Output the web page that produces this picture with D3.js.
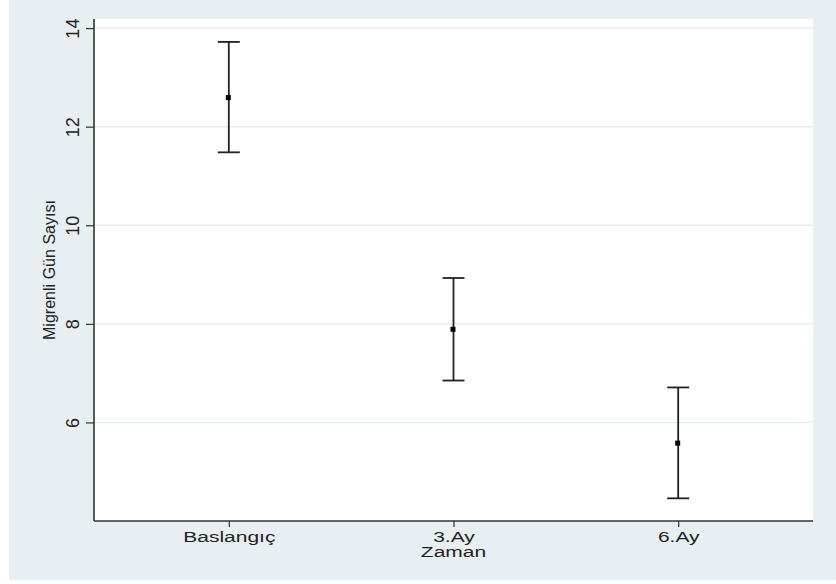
<!DOCTYPE html>
<html>
<head>
<meta charset="utf-8">
<script src="https://cdn.jsdelivr.net/npm/d3@7"></script>
<style>
  body { margin: 0; background: #fff; }
  text { font-family: "Liberation Sans", Arial, sans-serif; fill: #222; }
</style>
</head>
<body>
<div id="chart"></div>
<script>
// ===== data =====
var categories = ["Baslangıç", "3.Ay", "6.Ay"];
var means = [12.59, 7.89, 5.58];
var lower = [11.48, 6.85, 4.46];
var upper = [13.72, 8.93, 6.71];
var yTicks = [6, 8, 10, 12, 14];

var W = 836, H = 584;
var svg = d3.select("#chart").append("svg")
    .attr("width", W)
    .attr("height", H)

// outer panel
svg.append("rect")
    .attr("x", 9).attr("y", 0)
    .attr("width", W - 9).attr("height", 580)
    .attr("fill", "#e8eff2")

var pLeft = 94, pRight = 813, pTop = 19, pBottom = 521;

// plot region
svg.append("rect")
    .attr("x", pLeft).attr("y", pTop)
    .attr("width", pRight - pLeft).attr("height", pBottom - pTop)
    .attr("fill", "#fff")

var x = d3.scaleLinear().domain([0.4, 3.6]).range([pLeft, pRight])
var y = d3.scaleLinear().domain([4.0, 14.185]).range([pBottom, pTop])

// gridlines
svg.selectAll(".grid")
    .data(yTicks)
    .enter().append("line")
    .attr("x1", pLeft).attr("x2", pRight)
    .attr("y1", function(d){return y(d)})
    .attr("y2", function(d){return y(d)})
    .attr("stroke", "#e6eef1")
    .attr("stroke-width", 1.5)

// y axis
var yAxis = svg.append("g")
    .attr("transform", "translate(" + pLeft + ",0)")
    .call(d3.axisLeft(y).tickValues(yTicks).tickSize(8).tickFormat(d3.format("d")))
yAxis.select(".domain").attr("stroke", "#333").attr("stroke-width", 1.6)
    .attr("d", "M0," + pBottom + "V" + pTop)
yAxis.selectAll(".tick line").attr("stroke", "#333").attr("stroke-width", 1.2)
yAxis.selectAll(".tick text")
    .attr("font-size", "18px")
    .attr("font-family", "Liberation Sans, Arial, sans-serif")
    .attr("fill", "#222")
    .attr("x", 0).attr("y", 0)
    .attr("dy", null)
    .attr("text-anchor", "middle")
    .attr("transform", "translate(-15,0) rotate(-90)")

// x axis
var xAxis = svg.append("g")
    .attr("transform", "translate(0," + pBottom + ")")
    .call(d3.axisBottom(x).tickValues([1, 2, 3]).tickSize(6)
        .tickFormat(function(d){return categories[d - 1]}))
xAxis.select(".domain").attr("stroke", "#333").attr("stroke-width", 1.6)
    .attr("d", "M" + pLeft + ",0H" + pRight)
xAxis.selectAll(".tick line").attr("stroke", "#333").attr("stroke-width", 1.2)
xAxis.selectAll(".tick text")
    .attr("font-size", "15px")
    .attr("font-family", "Liberation Sans, Arial, sans-serif")
    .attr("fill", "#222")
    .attr("y", 21).attr("dy", null)
    .attr("transform", "scale(1.4,1)")

// axis titles
svg.append("text")
    .text("Zaman")
    .attr("x", 0).attr("y", 0)
    .attr("text-anchor", "middle")
    .attr("font-size", "15px")
    .attr("transform", "translate(" + x(2) + ",557) scale(1.4,1)")

svg.append("text")
    .text("Migrenli Gün Sayısı")
    .attr("text-anchor", "middle")
    .attr("font-size", "17px")
    .attr("textLength", 140)
    .attr("lengthAdjust", "spacingAndGlyphs")
    .attr("transform", "translate(55,270) rotate(-90)")

// error bars
var idx = [0, 1, 2];
var g = svg.append("g")
g.selectAll(".stem").data(idx).enter().append("line")
    .attr("x1", function(i){return x(i + 1)})
    .attr("x2", function(i){return x(i + 1)})
    .attr("y1", function(i){return y(upper[i])})
    .attr("y2", function(i){return y(lower[i])})
    .attr("stroke", "#222").attr("stroke-width", 1.8)
g.selectAll(".capHi").data(idx).enter().append("line")
    .attr("x1", function(i){return x(i + 1) - 11})
    .attr("x2", function(i){return x(i + 1) + 11})
    .attr("y1", function(i){return y(upper[i])})
    .attr("y2", function(i){return y(upper[i])})
    .attr("stroke", "#222").attr("stroke-width", 1.8)
g.selectAll(".capLo").data(idx).enter().append("line")
    .attr("x1", function(i){return x(i + 1) - 11})
    .attr("x2", function(i){return x(i + 1) + 11})
    .attr("y1", function(i){return y(lower[i])})
    .attr("y2", function(i){return y(lower[i])})
    .attr("stroke", "#222").attr("stroke-width", 1.8)
g.selectAll(".mean").data(idx).enter().append("rect")
    .attr("x", function(i){return x(i + 1) - 3})
    .attr("y", function(i){return y(means[i]) - 2.5})
    .attr("width", 5).attr("height", 5)
    .attr("fill", "#000")
</script>
</body>
</html>
